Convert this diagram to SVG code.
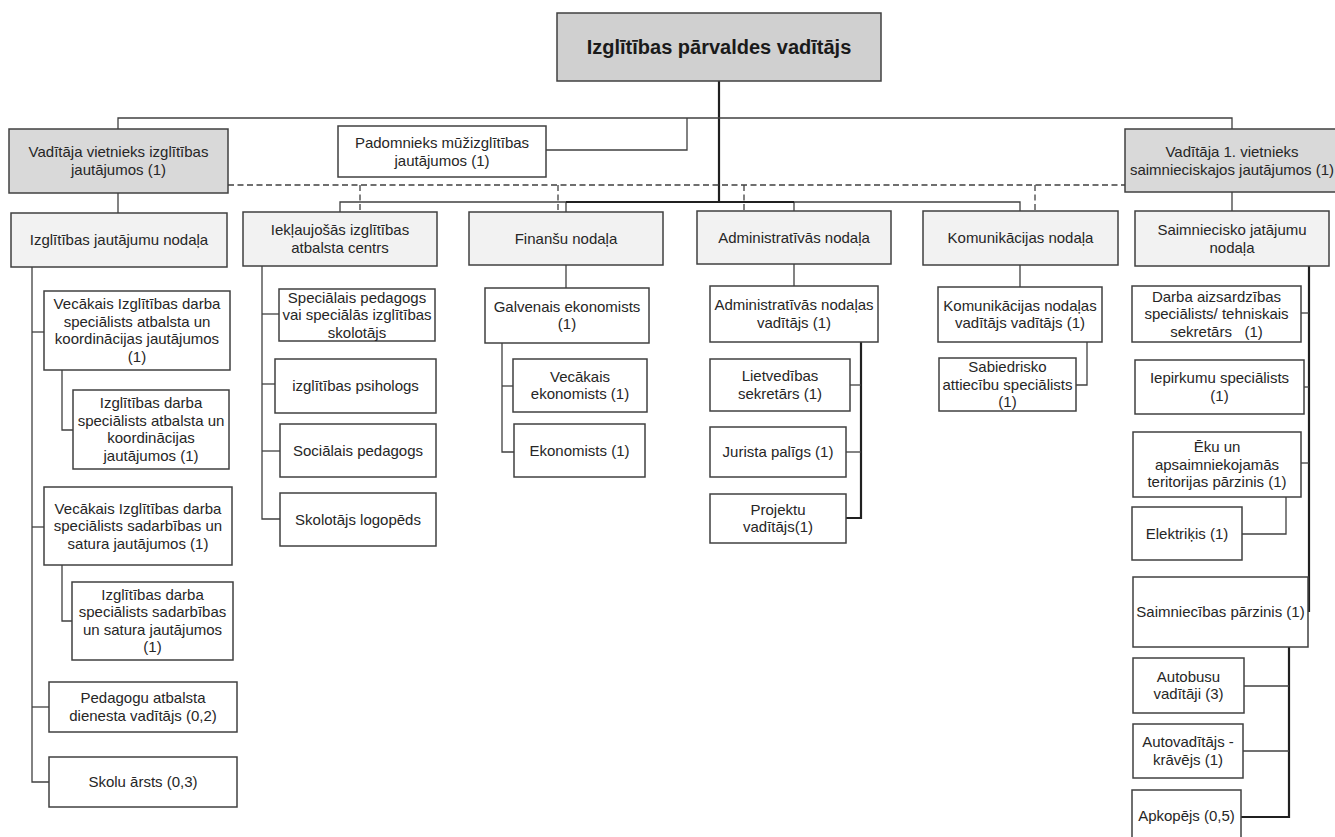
<svg xmlns="http://www.w3.org/2000/svg" width="1335" height="837" viewBox="0 0 1335 837">
<style>
rect{stroke:#404040;stroke-width:1.5;fill:#ffffff}
rect.top{fill:#d0d0d0}
rect.vice{fill:#d9d9d9}
rect.dept{fill:#f2f2f2}
text{font-family:"Liberation Sans",Arial,sans-serif;font-size:15px;fill:#262626;text-anchor:middle}
text.title{font-size:20px;font-weight:bold;fill:#1a1a1a}
#connectors path{fill:none;stroke:#404040;stroke-width:1.3}
#connectors path.thick{stroke:#202020;stroke-width:2.2}
#connectors path.dash{stroke-dasharray:6 3.5}
</style>
<rect x="0" y="0" width="1335" height="837" style="fill:#ffffff;stroke:none"/>
<g id="connectors">
<path class="thick" d="M719,81 V202"/>
<path d="M118,129 V118 H1232 V129"/>
<path d="M687,118 V150 H546"/>
<path d="M118,193 V213"/>
<path d="M1232,192 V211"/>
<path d="M340,212 V202 H1020 V211"/>
<path d="M566,202 V212"/>
<path d="M794,202 V211"/>
<path class="thick" d="M566,202 H794"/>
<path class="dash" d="M228,185 H1125"/>
<path class="dash" d="M360,185 V212"/>
<path class="dash" d="M558,185 V212"/>
<path class="dash" d="M744,185 V211"/>
<path class="dash" d="M1035,185 V211"/>
<path d="M32,267 V782 H49"/>
<path d="M32,332 H44"/>
<path d="M32,527 H44"/>
<path d="M32,707 H49"/>
<path d="M62,370 V430 H73"/>
<path d="M62,565 V621 H72"/>
<path d="M262,266 V519 H280"/>
<path d="M262,314 H279"/>
<path d="M262,384 H275"/>
<path d="M262,451 H280"/>
<path d="M566,265 V288"/>
<path d="M502,343 V452 H514"/>
<path d="M502,386 H513"/>
<path d="M794,264 V286"/>
<path class="thick" d="M861,342 V518 H846"/>
<path d="M850,385 H861"/>
<path d="M846,452 H861"/>
<path d="M1020,265 V287"/>
<path d="M1087,342 V385 H1076"/>
<path class="thick" d="M1309,266 V611 H1308"/>
<path d="M1301,313 H1309"/>
<path d="M1304,387 H1309"/>
<path d="M1301,463 H1309"/>
<path d="M1286,497 V534 H1242"/>
<path class="thick" d="M1289,647 V817 H1241"/>
<path d="M1244,686 H1289"/>
<path d="M1243,751 H1289"/>
</g>
<g id="n-head"><rect class="top" x="557" y="13" width="324" height="68"/><text class="title" x="719" y="54">Izglītības pārvaldes vadītājs</text></g>
<g id="n-vice-edu"><rect class="vice" x="9" y="129" width="219" height="64"/><text><tspan x="118.5" y="157">Vadītāja vietnieks izglītības</tspan><tspan x="118.5" y="175">jautājumos (1)</tspan></text></g>
<g id="n-advisor"><rect x="338" y="126" width="208" height="51"/><text><tspan x="442" y="147.5">Padomnieks mūžizglītības</tspan><tspan x="442" y="165.5">jautājumos (1)</tspan></text></g>
<g id="n-vice-eco"><rect class="vice" x="1125" y="129" width="214" height="63"/><text><tspan x="1232" y="157">Vadītāja 1. vietnieks</tspan><tspan x="1232" y="175">saimnieciskajos jautājumos (1)</tspan></text></g>
<g id="n-dept-edu"><rect class="dept" x="11" y="213" width="216" height="54"/><text x="119" y="245">Izglītības jautājumu nodaļa</text></g>
<g id="n-dept-incl"><rect class="dept" x="243" y="212" width="194" height="54"/><text><tspan x="340" y="235">Iekļaujošās izglītības</tspan><tspan x="340" y="253">atbalsta centrs</tspan></text></g>
<g id="n-dept-fin"><rect class="dept" x="469" y="212" width="194" height="53"/><text x="566" y="243.5">Finanšu nodaļa</text></g>
<g id="n-dept-adm"><rect class="dept" x="697" y="211" width="194" height="53"/><text x="794" y="242.5">Administratīvās nodaļa</text></g>
<g id="n-dept-com"><rect class="dept" x="923" y="211" width="195" height="54"/><text x="1020.5" y="243">Komunikācijas nodaļa</text></g>
<g id="n-dept-eco"><rect class="dept" x="1135" y="211" width="194" height="55"/><text><tspan x="1232" y="235">Saimniecisko jatājumu</tspan><tspan x="1232" y="252.5">nodaļa</tspan></text></g>
<g id="n-edu-1"><rect x="44" y="291" width="186" height="79"/><text><tspan x="137" y="309.25">Vecākais Izglītības darba</tspan><tspan x="137" y="326.75">speciālists atbalsta un</tspan><tspan x="137" y="344.25">koordinācijas jautājumos</tspan><tspan x="137" y="361.75">(1)</tspan></text></g>
<g id="n-edu-1a"><rect x="73" y="390" width="156" height="79"/><text><tspan x="151" y="408.25">Izglītības darba</tspan><tspan x="151" y="425.75">speciālists atbalsta un</tspan><tspan x="151" y="443.25">koordinācijas</tspan><tspan x="151" y="460.75">jautājumos (1)</tspan></text></g>
<g id="n-edu-2"><rect x="44" y="487" width="188" height="78"/><text><tspan x="138" y="513.5">Vecākais Izglītības darba</tspan><tspan x="138" y="531">speciālists sadarbības un</tspan><tspan x="138" y="548.5">satura jautājumos (1)</tspan></text></g>
<g id="n-edu-2a"><rect x="72" y="582" width="161" height="78"/><text><tspan x="152.5" y="599.75">Izglītības darba</tspan><tspan x="152.5" y="617.25">speciālists sadarbības</tspan><tspan x="152.5" y="634.75">un satura jautājumos</tspan><tspan x="152.5" y="652.25">(1)</tspan></text></g>
<g id="n-edu-3"><rect x="49" y="682" width="188" height="50"/><text><tspan x="143" y="703.25">Pedagogu atbalsta</tspan><tspan x="143" y="720.75">dienesta vadītājs (0,2)</tspan></text></g>
<g id="n-edu-4"><rect x="49" y="757" width="188" height="50"/><text x="143" y="787">Skolu ārsts (0,3)</text></g>
<g id="n-incl-1"><rect x="279" y="289" width="156" height="52"/><text><tspan x="357" y="302.5">Speciālais pedagogs</tspan><tspan x="357" y="320">vai speciālās izglītības</tspan><tspan x="357" y="337.5">skolotājs</tspan></text></g>
<g id="n-incl-2"><rect x="275" y="359" width="161" height="54"/><text x="355.5" y="391">izglītības psihologs</text></g>
<g id="n-incl-3"><rect x="280" y="424" width="156" height="53"/><text x="358" y="455.5">Sociālais pedagogs</text></g>
<g id="n-incl-4"><rect x="280" y="493" width="156" height="53"/><text x="358" y="524.5">Skolotājs logopēds</text></g>
<g id="n-fin-1"><rect x="485" y="288" width="164" height="55"/><text><tspan x="567" y="311.75">Galvenais ekonomists</tspan><tspan x="567" y="329.25">(1)</tspan></text></g>
<g id="n-fin-2"><rect x="513" y="359" width="134" height="53"/><text><tspan x="580" y="381.75">Vecākais</tspan><tspan x="580" y="399.25">ekonomists (1)</tspan></text></g>
<g id="n-fin-3"><rect x="514" y="424" width="131" height="53"/><text x="579.5" y="455.5">Ekonomists (1)</text></g>
<g id="n-adm-1"><rect x="710" y="286" width="168" height="56"/><text><tspan x="794" y="310.25">Administratīvās nodaļas</tspan><tspan x="794" y="327.75">vadītājs (1)</tspan></text></g>
<g id="n-adm-2"><rect x="710" y="359" width="140" height="52"/><text><tspan x="780" y="381.25">Lietvedības</tspan><tspan x="780" y="398.75">sekretārs (1)</tspan></text></g>
<g id="n-adm-3"><rect x="710" y="427" width="136" height="50"/><text x="778" y="457">Jurista palīgs (1)</text></g>
<g id="n-adm-4"><rect x="710" y="494" width="136" height="49"/><text><tspan x="778" y="514.75">Projektu</tspan><tspan x="778" y="532.25">vadītājs(1)</tspan></text></g>
<g id="n-com-1"><rect x="938" y="287" width="164" height="55"/><text><tspan x="1020" y="310.75">Komunikācijas nodaļas</tspan><tspan x="1020" y="328.25">vadītājs vadītājs (1)</tspan></text></g>
<g id="n-com-2"><rect x="939" y="358" width="137" height="53"/><text><tspan x="1007.5" y="372">Sabiedrisko</tspan><tspan x="1007.5" y="389.5">attiecību speciālists</tspan><tspan x="1007.5" y="407">(1)</tspan></text></g>
<g id="n-eco-1"><rect x="1132" y="286" width="169" height="56"/><text xml:space="preserve"><tspan x="1216.5" y="301.5">Darba aizsardzības</tspan><tspan x="1216.5" y="319">speciālists/ tehniskais</tspan><tspan x="1216.5" y="336.5">sekretārs   (1)</tspan></text></g>
<g id="n-eco-2"><rect x="1135" y="360" width="169" height="54"/><text><tspan x="1219.5" y="383.25">Iepirkumu speciālists</tspan><tspan x="1219.5" y="400.75">(1)</tspan></text></g>
<g id="n-eco-3"><rect x="1133" y="432" width="168" height="65"/><text><tspan x="1217" y="452">Ēku un</tspan><tspan x="1217" y="469.5">apsaimniekojamās</tspan><tspan x="1217" y="487">teritorijas pārzinis (1)</tspan></text></g>
<g id="n-eco-3a"><rect x="1132" y="507" width="110" height="53"/><text x="1187" y="538.5">Elektriķis (1)</text></g>
<g id="n-eco-4"><rect x="1133" y="577" width="175" height="70"/><text x="1220.5" y="617">Saimniecības pārzinis (1)</text></g>
<g id="n-eco-4a"><rect x="1133" y="658" width="111" height="55"/><text><tspan x="1188.5" y="681.75">Autobusu</tspan><tspan x="1188.5" y="699.25">vadītāji (3)</tspan></text></g>
<g id="n-eco-4b"><rect x="1133" y="724" width="110" height="54"/><text><tspan x="1188" y="747.25">Autovadītājs -</tspan><tspan x="1188" y="764.75">krāvējs (1)</tspan></text></g>
<g id="n-eco-4c"><rect x="1132" y="790" width="109" height="52"/><text x="1186.5" y="821">Apkopējs (0,5)</text></g>
</svg>
